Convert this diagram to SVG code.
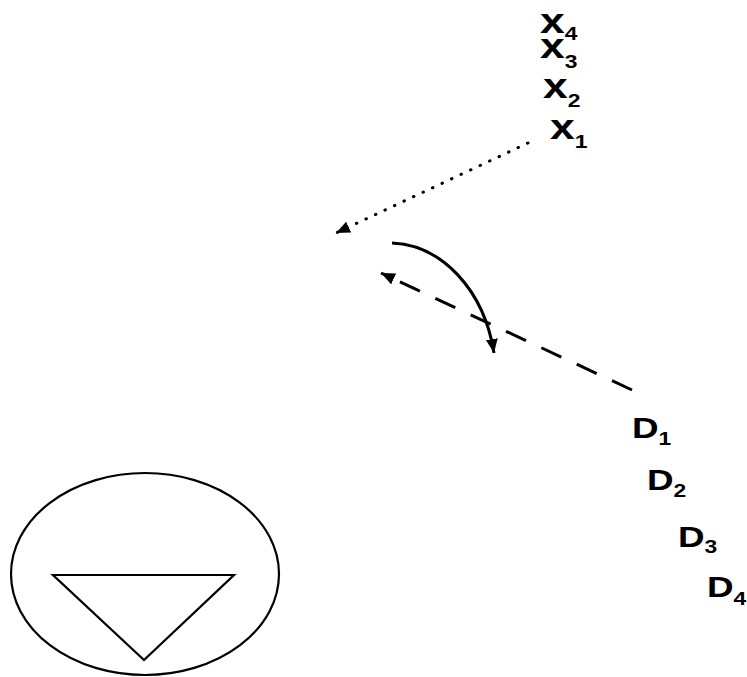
<svg xmlns="http://www.w3.org/2000/svg" width="747" height="677" viewBox="0 0 747 677">
<defs>
<style>
.lbl{font-family:"Liberation Sans",Arial,sans-serif;font-weight:bold;fill:#000;}
.xl{font-size:35px;}
.dl{font-size:29px;}
.sub{font-size:18px;}
.con{fill:none;stroke:#000;stroke-width:3;}
.shape{fill:none;stroke:#000;stroke-width:2.2;}
</style>
<marker id="ah" markerUnits="userSpaceOnUse" markerWidth="16" markerHeight="14" refX="14" refY="6" orient="auto">
<path d="M0,0 L14,6 L0,12 z" fill="#000"/>
</marker>
</defs>
<rect width="747" height="677" fill="#fff"/>
<g id="x4"><text class="lbl xl" transform="translate(540,33) scale(1.27,1)">x<tspan class="sub" dy="7">4</tspan></text></g>
<g id="x3"><text class="lbl xl" transform="translate(540,58) scale(1.27,1)">x<tspan class="sub" dy="10">3</tspan></text></g>
<g id="x2"><text class="lbl xl" transform="translate(543,98) scale(1.27,1)">x<tspan class="sub" dy="9">2</tspan></text></g>
<g id="x1"><text class="lbl xl" transform="translate(550,139) scale(1.27,1)">x<tspan class="sub" dy="9">1</tspan></text></g>
<g id="D1"><text class="lbl dl" transform="translate(632,438) scale(1.27,1)">D<tspan class="sub" dy="7">1</tspan></text></g>
<g id="D2"><text class="lbl dl" transform="translate(647,490) scale(1.27,1)">D<tspan class="sub" dy="7">2</tspan></text></g>
<g id="D3"><text class="lbl dl" transform="translate(678,547) scale(1.27,1)">D<tspan class="sub" dy="6">3</tspan></text></g>
<g id="D4"><text class="lbl dl" transform="translate(707,597) scale(1.27,1)">D<tspan class="sub" dy="8">4</tspan></text></g>
<g id="symbol">
<ellipse class="shape" cx="145" cy="574" rx="134" ry="101"/>
<polygon class="shape" points="53,575 234,575 144,660"/>
</g>
<g id="connectors">
<line class="con" x1="528" y1="143" x2="336" y2="233" stroke-width="3.5" stroke-linecap="round" stroke-dasharray="0.5 10" marker-end="url(#ah)"/>
<line class="con" x1="632" y1="390" x2="381" y2="273" stroke-dasharray="22 17" marker-end="url(#ah)"/>
<path class="con" d="M392,243 C442,245 484,290 494,353" marker-end="url(#ah)"/>
</g>
</svg>
